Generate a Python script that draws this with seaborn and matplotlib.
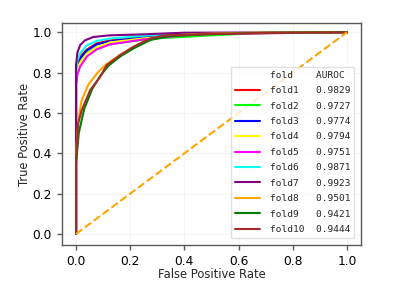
import matplotlib
matplotlib.use('Agg')
import matplotlib.pyplot as plt
import pandas as pd
import seaborn as sns
from matplotlib.lines import Line2D

# ROC curves (fpr, tpr) for each fold
folds = ['fold1', 'fold2', 'fold3', 'fold4', 'fold5', 'fold6', 'fold7', 'fold8', 'fold9', 'fold10']
auroc = ['0.9829', '0.9727', '0.9774', '0.9794', '0.9751', '0.9871', '0.9923', '0.9501', '0.9421', '0.9444']
colors = ['red', 'lime', 'blue', 'yellow', 'magenta', 'cyan', 'purple', 'orange', 'green', 'brown']

fpr = {
    'fold1': [0.0, 0.0, 0.005, 0.015, 0.04, 0.076, 0.125, 0.25, 0.4, 1.0],
    'fold2': [0.0, 0.0, 0.005, 0.015, 0.04, 0.076, 0.125, 0.2, 0.3, 0.5, 0.65, 1.0],
    'fold3': [0.0, 0.0, 0.005, 0.015, 0.04, 0.076, 0.125, 0.25, 0.42, 1.0],
    'fold4': [0.0, 0.0, 0.005, 0.015, 0.04, 0.076, 0.125, 0.25, 0.45, 1.0],
    'fold5': [0.0, 0.0, 0.005, 0.015, 0.04, 0.076, 0.125, 0.25, 0.4, 0.5, 1.0],
    'fold6': [0.0, 0.0, 0.005, 0.015, 0.039, 0.076, 0.125, 0.25, 0.38, 1.0],
    'fold7': [0.0, 0.0, 0.005, 0.015, 0.033, 0.064, 0.125, 0.25, 0.4, 1.0],
    'fold8': [0.0, 0.0, 0.008, 0.02, 0.045, 0.08, 0.11, 0.16, 0.21, 0.27, 0.33, 0.46, 0.65, 1.0],
    'fold9': [0.0, 0.0, 0.01, 0.03, 0.06, 0.09, 0.12, 0.165, 0.215, 0.275, 0.34, 0.47, 0.68, 1.0],
    'fold10': [0.0, 0.0, 0.008, 0.021, 0.052, 0.089, 0.113, 0.162, 0.21, 0.273, 0.33, 0.46, 0.7, 1.0],
}
tpr = {
    'fold1': [0.0, 0.8, 0.85, 0.88, 0.915, 0.945, 0.96, 0.978, 0.993, 1.0],
    'fold2': [0.0, 0.78, 0.83, 0.86, 0.9, 0.925, 0.94, 0.955, 0.97, 0.985, 0.995, 1.0],
    'fold3': [0.0, 0.78, 0.84, 0.87, 0.91, 0.94, 0.955, 0.975, 0.993, 1.0],
    'fold4': [0.0, 0.77, 0.82, 0.85, 0.895, 0.925, 0.95, 0.97, 0.992, 1.0],
    'fold5': [0.0, 0.74, 0.79, 0.83, 0.88, 0.915, 0.94, 0.965, 0.985, 0.992, 1.0],
    'fold6': [0.0, 0.8, 0.86, 0.895, 0.935, 0.957, 0.969, 0.983, 0.995, 1.0],
    'fold7': [0.0, 0.84, 0.9, 0.936, 0.96, 0.977, 0.985, 0.99, 0.998, 1.0],
    'fold8': [0.0, 0.4, 0.56, 0.66, 0.74, 0.8, 0.84, 0.886, 0.925, 0.965, 0.983, 0.992, 0.998, 1.0],
    'fold9': [0.0, 0.35, 0.5, 0.62, 0.72, 0.785, 0.835, 0.882, 0.922, 0.962, 0.98, 0.99, 0.997, 1.0],
    'fold10': [0.0, 0.38, 0.55, 0.614, 0.713, 0.779, 0.837, 0.886, 0.927, 0.969, 0.985, 0.99, 0.997, 1.0],
}

rows = []
for f in folds:
    for x, y in zip(fpr[f], tpr[f]):
        rows.append({'fold': f, 'fpr': x, 'tpr': y})
df = pd.DataFrame(rows)

sns.set_theme(style='ticks', rc={
    'axes.edgecolor': '0.35',
    'axes.linewidth': 1.0,
    'xtick.color': '0.35',
    'ytick.color': '0.35',
    'xtick.labelcolor': 'black',
    'ytick.labelcolor': 'black',
})
plt.rcParams['font.family'] = ['DejaVu Sans']

fig = plt.figure(figsize=(3.99, 2.99), dpi=100)
ax = fig.add_axes([0.155, 0.181, 0.75, 0.742])
ax.grid(True, color='0.96', linewidth=0.8)

sns.lineplot(data=df, x='fpr', y='tpr', hue='fold', hue_order=folds,
             palette=dict(zip(folds, colors)), estimator=None, sort=False,
             linewidth=1.5, legend=False, ax=ax)
ax.plot([0, 1], [0, 1], color='orange', linestyle='--', linewidth=1.5)

ax.set_xlim(-0.0525, 1.0525)
ax.set_ylim(-0.054, 1.046)
ax.set_xticks([0.0, 0.2, 0.4, 0.6, 0.8, 1.0])
ax.set_yticks([0.0, 0.2, 0.4, 0.6, 0.8, 1.0])
ax.tick_params(labelsize=8.8, length=3.5, width=1)
ax.set_xlabel('False Positive Rate', fontsize=8.3, labelpad=0.5)
ax.set_ylabel('True Positive Rate', fontsize=8.3, labelpad=1.5)

# first legend row is a header without a line
handles = [Line2D([], [], linestyle='none')]
labels = ['fold    AUROC']
for f, a, c in zip(folds, auroc, colors):
    handles.append(Line2D([], [], color=c, linewidth=1.5))
    labels.append(f.ljust(8) + a)
ax.legend(handles, labels, loc='lower right', prop={'family': 'DejaVu Sans Mono', 'size': 6.8},
          handlelength=2.65, handletextpad=1.05, borderpad=0.45, labelspacing=0.68,
          borderaxespad=0.7, frameon=True, edgecolor='0.85')

fig.savefig('out.png', dpi=100)
